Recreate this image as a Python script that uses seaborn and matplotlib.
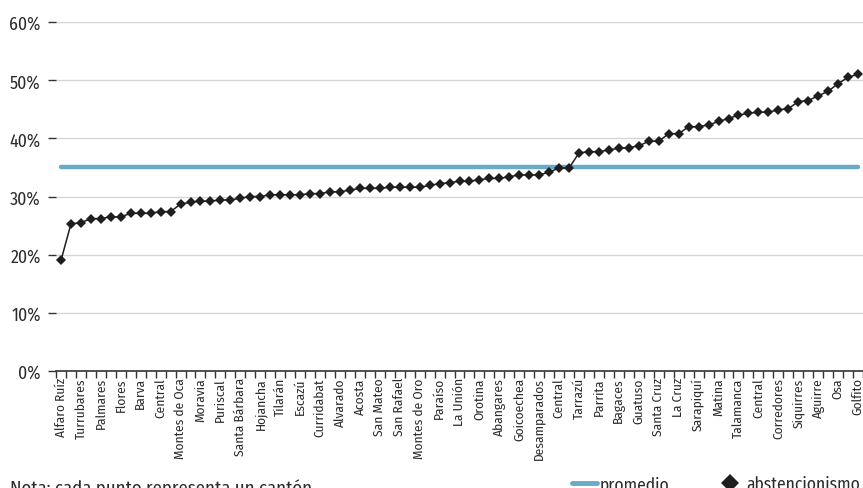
import numpy as np
import pandas as pd
import matplotlib
matplotlib.use("Agg")
import matplotlib.pyplot as plt
from matplotlib.lines import Line2D
from matplotlib.ticker import FixedLocator, FuncFormatter
import seaborn as sns

# Cantones rotulados (uno de cada dos puntos, en orden creciente de abstención)
etiquetas = [
    "Alfaro Ruíz", "Turrubares", "Palmares", "Flores", "Barva", "Central",
    "Montes de Oca", "Moravia", "Puriscal", "Santa Bárbara", "Hojancha",
    "Tilarán", "Escazú", "Curridabat", "Alvarado", "Acosta", "San Mateo",
    "San Rafael", "Montes de Oro", "Paraíso", "La Unión", "Orotina",
    "Abangares", "Goicoechea", "Desamparados", "Central", "Tarrazú",
    "Parrita", "Bagaces", "Guatuso", "Santa Cruz", "La Cruz", "Sarapiquí",
    "Matina", "Talamanca", "Central", "Corredores", "Siquirres", "Aguirre",
    "Osa", "Golfito",
]

# Abstencionismo por cantón (%)
abstencionismo = [
    19.0, 25.3, 25.5, 26.2, 26.2, 26.5, 26.5, 27.1, 27.1, 27.1,
    27.4, 27.4, 28.7, 29.0, 29.2, 29.2, 29.4, 29.4, 29.7, 30.0,
    30.0, 30.3, 30.3, 30.3, 30.3, 30.5, 30.5, 30.8, 30.8, 31.1,
    31.4, 31.4, 31.4, 31.6, 31.6, 31.6, 31.6, 31.9, 32.2, 32.4,
    32.6, 32.6, 32.9, 33.1, 33.1, 33.4, 33.7, 33.7, 33.7, 34.2,
    34.9, 34.9, 37.5, 37.7, 37.7, 38.0, 38.3, 38.4, 38.7, 39.5,
    39.5, 40.8, 40.8, 42.0, 42.0, 42.3, 42.9, 43.4, 44.0, 44.3,
    44.5, 44.5, 44.9, 45.1, 46.3, 46.5, 47.3, 48.1, 49.4, 50.5,
    51.0,
]

promedio = 35.1

sns.set_style("white")
plt.rcParams["font.family"] = ["Fira Sans Condensed", "DejaVu Sans"]

posicion = np.arange(len(abstencionismo))
df = pd.DataFrame({
    "canton": posicion,
    "abstencionismo": abstencionismo,
    "promedio": [promedio] * len(abstencionismo),
})

COLOR_PROM = "#68aac8"
COLOR_PUNTO = "#1e1e1e"
COLOR_TEXTO = "#2b2b2b"

W, H = 863, 489
fig = plt.figure(figsize=(W / 100, H / 100), dpi=100)
ax = fig.add_axes([56 / W, (H - 372) / H, (W - 56) / W, (372 - 23) / H])

sns.lineplot(data=df, x="canton", y="promedio", ax=ax, color=COLOR_PROM,
             linewidth=3.2, solid_capstyle="round", zorder=2)
sns.lineplot(data=df, x="canton", y="abstencionismo", ax=ax, color=COLOR_PUNTO,
             linewidth=1.1, marker="D", markersize=5.4, markeredgewidth=0,
             zorder=3)

ax.set_xlim(-0.5, len(abstencionismo) - 0.5)
ax.set_ylim(0, 60)
ax.set_xlabel("")
ax.set_ylabel("")

# Eje Y en porcentaje con líneas guía
ax.yaxis.set_major_locator(FixedLocator(np.arange(0, 61, 10)))
ax.yaxis.set_major_formatter(FuncFormatter(lambda v, p: f"{v:.0f}%"))
ax.grid(axis="y", color="#d6d6d6", linewidth=1.0, zorder=0)
ax.tick_params(axis="y", left=True, length=6, width=1, color="#333333",
               labelsize=12.8, labelcolor=COLOR_TEXTO, pad=5)

# Eje X: rótulos cada dos cantones, marcas entre categorías
ax.set_xticks(posicion[::2])
ax.set_xticklabels(etiquetas, rotation=90, fontsize=9.6, color=COLOR_TEXTO)
ax.set_xticks(np.arange(-0.5, len(abstencionismo), 1), minor=True)
ax.tick_params(axis="x", which="major", length=0, pad=4.5)
ax.tick_params(axis="x", which="minor", bottom=True, length=5, width=1,
               color="#333333")

for lado in ["top", "right", "left"]:
    ax.spines[lado].set_visible(False)
ax.spines["bottom"].set_color("#333333")
ax.spines["bottom"].set_linewidth(1.2)

# Nota y leyenda al pie
fig.text(10 / W, -5 / H, "Nota: cada punto representa un cantón",
         fontsize=13.5, color=COLOR_TEXTO, ha="left", va="baseline")

handles = [
    Line2D([], [], color=COLOR_PROM, linewidth=3.5),
    Line2D([], [], color=COLOR_PUNTO, linestyle="none", marker="D",
           markersize=9, markeredgewidth=0),
]
fig.legend(handles, ["promedio", "abstencionismo"], loc="center left",
           bbox_to_anchor=(572 / W, 4 / H), ncol=2, frameon=False,
           fontsize=12.6, handlelength=1.4, handletextpad=0.2,
           columnspacing=2.75, labelcolor=COLOR_TEXTO, borderaxespad=0,
           borderpad=0)

fig.savefig("out.png", dpi=100)
